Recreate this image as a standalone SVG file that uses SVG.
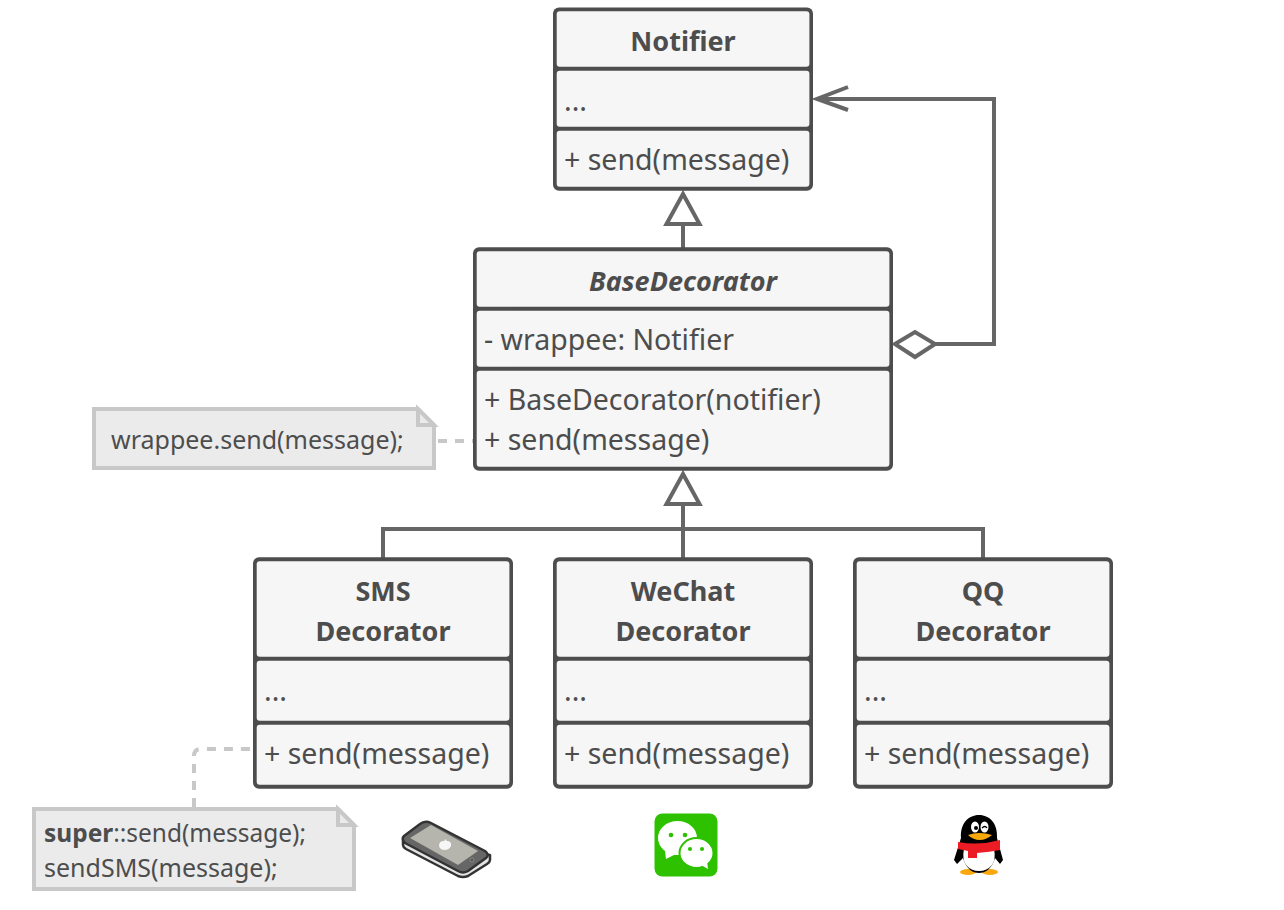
<svg xmlns="http://www.w3.org/2000/svg" width="1284" height="910" viewBox="0 0 1284 910">
<style>
text{font-family:"Noto Sans","Open Sans","Liberation Sans",sans-serif;font-size:28.5px;fill:#4d4d4d}
.t{font-weight:700;font-size:27px;text-anchor:middle}
.n{font-size:25px}
.o{fill:#4d4d4d}
.i{fill:#f6f6f6}
.c{stroke:#666;stroke-width:4;fill:none}
.tri{stroke:#666;stroke-width:4;fill:#fff}
.d{stroke:#c8c8c8;stroke-width:4;fill:none;stroke-dasharray:9 8}
.note{fill:#ebebeb;stroke:#c8c8c8;stroke-width:4}
</style>
<g id="connectors">
<path class="c" d="M683 224V248"/>
<path class="tri" d="M683 194L666.500 224H699.500Z"/>
<path class="c" d="M683 504V558M383 558V529H983V558"/>
<path class="tri" d="M683 474L666.500 504H699.500Z"/>
<path class="c" d="M935 344H994V99H817M848 87L817 99L848 110"/>
<path class="tri" d="M895 344L915 332L935 344L915 357Z"/>
<path class="d" d="M438 441H473"/>
<path class="d" d="M194 807V756Q194 749 201 749H253"/>
</g>
<g id="notifier">
<rect class="o" x="553" y="7.500" width="260" height="183.200" rx="6"/>
<rect class="i" x="556.700" y="11.300" width="252.700" height="55.400" rx="3"/>
<rect class="i" x="556.700" y="70.700" width="252.700" height="56" rx="3"/>
<rect class="i" x="556.700" y="130.700" width="252.700" height="56" rx="3"/>
<text class="t" x="683" y="51">Notifier</text>
<text x="564" y="111">...</text>
<text x="564" y="170">+ send(message)</text>
</g>
<g id="base-decorator">
<rect class="o" x="473" y="247.300" width="420" height="223.400" rx="6"/>
<rect class="i" x="476.700" y="251.300" width="412.700" height="55.400" rx="3"/>
<rect class="i" x="476.700" y="310.700" width="412.700" height="56" rx="3"/>
<rect class="i" x="476.700" y="370.700" width="412.700" height="96" rx="3"/>
<text class="t" x="683" y="291" font-style="italic">BaseDecorator</text>
<text x="484" y="350">- wrappee: Notifier</text>
<text x="484" y="410">+ BaseDecorator(notifier)</text>
<text x="484" y="450">+ send(message)</text>
</g>
<g id="sms-decorator">
<rect class="o" x="253" y="557.300" width="260" height="231.400" rx="6"/>
<rect class="i" x="256.700" y="561.300" width="252.700" height="95.400" rx="3"/>
<rect class="i" x="256.700" y="660.700" width="252.700" height="60" rx="3"/>
<rect class="i" x="256.700" y="724.700" width="252.700" height="60" rx="3"/>
<text class="t" x="383" y="601">SMS</text>
<text class="t" x="383" y="641">Decorator</text>
<text x="264" y="701">...</text>
<text x="264" y="764">+ send(message)</text>
</g>
<g id="wechat-decorator">
<rect class="o" x="553" y="557.300" width="260" height="231.400" rx="6"/>
<rect class="i" x="556.700" y="561.300" width="252.700" height="95.400" rx="3"/>
<rect class="i" x="556.700" y="660.700" width="252.700" height="60" rx="3"/>
<rect class="i" x="556.700" y="724.700" width="252.700" height="60" rx="3"/>
<text class="t" x="683" y="601">WeChat</text>
<text class="t" x="683" y="641">Decorator</text>
<text x="564" y="701">...</text>
<text x="564" y="764">+ send(message)</text>
</g>
<g id="qq-decorator">
<rect class="o" x="853" y="557.300" width="260" height="231.400" rx="6"/>
<rect class="i" x="856.700" y="561.300" width="252.700" height="95.400" rx="3"/>
<rect class="i" x="856.700" y="660.700" width="252.700" height="60" rx="3"/>
<rect class="i" x="856.700" y="724.700" width="252.700" height="60" rx="3"/>
<text class="t" x="983" y="601">QQ</text>
<text class="t" x="983" y="641">Decorator</text>
<text x="864" y="701">...</text>
<text x="864" y="764">+ send(message)</text>
</g>
<g id="note-wrappee">
<path class="note" d="M94 409H418L434 425V468H94Z"/>
<path class="note" d="M418 409V425H434Z"/>
<text class="n" x="111" y="449">wrappee.send(message);</text>
</g>
<g id="note-super">
<path class="note" d="M34 809H338L354 825V889H34Z"/>
<path class="note" d="M338 809V825H354Z"/>
<text class="n" x="44" y="842" textLength="262" lengthAdjust="spacingAndGlyphs"><tspan font-weight="700">super</tspan>::send(message);</text>
<text class="n" x="44" y="877">sendSMS(message);</text>
</g>
<g id="icon-phone" stroke-linejoin="round">
<path d="M403 840V845Q403 847 406 849L458 876Q463 878 468 876L487 864Q490 862 490 860V855Z" fill="#e4e4e4" stroke="#333" stroke-width="2.500"/>
<path d="M404 836L420 824Q425 820 431 823L485 851Q490 855 486 858L468 871Q463 874 458 871L405 843Q401 839 404 836Z" fill="#666" stroke="#333" stroke-width="2.500"/>
<path d="M410 838L431 825L478 851L458 865Z" fill="#b5b5ad"/>
<path d="M439 846Q439 841 444 841L446 839L446.500 841Q452 841 451 846Q449 850 445 850Q440 850 439 846Z" fill="#f6f6f6"/>
<circle cx="472" cy="860" r="2" fill="#555" stroke="#888"/>
</g>
<g id="icon-wechat">
<rect x="654.500" y="813.500" width="63" height="63" rx="8" fill="#2dc100"/>
<ellipse cx="677.500" cy="838" rx="19.500" ry="17" fill="#fff"/>
<path d="M665 851L666 859L676 854Z" fill="#fff"/>
<ellipse cx="696.500" cy="853" rx="17" ry="15" fill="#fff" stroke="#2dc100" stroke-width="2"/>
<path d="M701 865L708 869L707 861Z" fill="#fff"/>
<circle cx="671" cy="835" r="2.300" fill="#2dc100"/>
<circle cx="685" cy="835" r="2.300" fill="#2dc100"/>
<circle cx="690" cy="849" r="2.100" fill="#2dc100"/>
<circle cx="702" cy="849" r="2.100" fill="#2dc100"/>
</g>
<g id="icon-qq">
<ellipse cx="968" cy="872" rx="8" ry="3" fill="#f9a80e"/>
<ellipse cx="990" cy="872" rx="8" ry="3" fill="#f9a80e"/>
<path d="M961 838C960 824 968 815 979 815C990 815 998 824 997 838L1003 860L1000 864L995 858C992 869 985 873 979 873C973 873 966 869 963 858L957 864L954 860Z" fill="#000"/>
<path d="M964 848H994Q996 860 992 865Q987 871 979 871Q971 871 966 865Q962 860 964 848Z" fill="#fff"/>
<path d="M958 842Q979 846 1000 840L1000 850Q990 852 977 853V858H968V851L958 849Z" fill="#ec1c24"/>
<ellipse cx="975" cy="827" rx="4" ry="5.500" fill="#fff"/>
<ellipse cx="984.500" cy="827" rx="4" ry="5.500" fill="#fff"/>
<circle cx="976" cy="828" r="2" fill="#000"/>
<path d="M982 828Q985 825 987 828" stroke="#000" stroke-width="1.300" fill="none"/>
<path d="M968 835Q979 831 992 835Q986 840 980 840Q973 840 968 835Z" fill="#f9a80e"/>
</g>
</svg>
